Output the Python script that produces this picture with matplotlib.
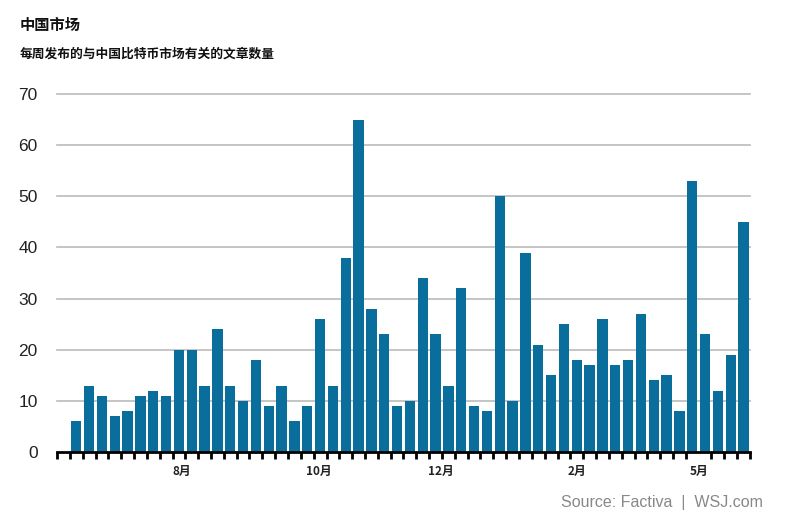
import matplotlib
matplotlib.use("Agg")
import matplotlib.pyplot as plt
import numpy as np

values = [6, 13, 11, 7, 8, 11, 12, 11, 20, 20, 13, 24, 13, 10, 18, 9, 13, 6, 9, 26,
          13, 38, 65, 28, 23, 9, 10, 34, 23, 13, 32, 9, 8, 50, 10, 39, 21, 15, 25, 18,
          17, 26, 17, 18, 27, 14, 15, 8, 53, 23, 12, 19, 45]
month_labels = ["8月", "10月", "12月", "2月", "5月"]
month_pos = [8.2, 18.9, 28.4, 39.0, 48.5]
yticks = [0, 10, 20, 30, 40, 50, 60, 70]

title = "中国市场"
subtitle = "每周发布的与中国比特币市场有关的文章数量"
source = "Source: Factiva  |  WSJ.com"

cjk = ["Noto Sans CJK SC", "DejaVu Sans"]
latin = ["Liberation Sans", "DejaVu Sans"]

fig = plt.figure(figsize=(7.87, 5.24), dpi=100)
ax = fig.add_axes([57/787, 72/524, (750-57)/787, (452-94)/524])

x = np.arange(len(values))
ax.bar(x, values, width=0.8, color="#0a6e9c", zorder=3)

ax.set_xlim(-1.5, len(values) - 0.5)
ax.set_ylim(0, 70)
ax.set_yticks(yticks)
ax.set_yticklabels([str(v) for v in yticks], fontfamily=latin, fontsize=12.5, color="#222222")
ax.tick_params(axis="y", length=0, pad=14)
for v in yticks[1:]:
    ax.axhline(v, color="#bbbbbb", linewidth=1.2, zorder=1, clip_on=False)

ax.set_xticks(month_pos)
ax.set_xticklabels(month_labels, fontfamily=cjk, fontsize=8.5, fontweight="bold", color="#222222")
ax.tick_params(axis="x", which="major", length=0, pad=9)
ax.set_xticks(np.arange(-1.5, len(values), 1.0), minor=True)
ax.tick_params(axis="x", which="minor", length=5, width=2, color="black", direction="out")

for s in ["top", "right", "left"]:
    ax.spines[s].set_visible(False)
ax.spines["bottom"].set_linewidth(2)
ax.spines["bottom"].set_color("black")
ax.spines["bottom"].set_zorder(4)

fig.text(20/787, 1 - 25/524, title, fontfamily=cjk, fontsize=11, fontweight="bold",
         va="center", ha="left", color="#111111")
fig.text(20/787, 1 - 54/524, subtitle, fontfamily=cjk, fontsize=9.2, fontweight="bold",
         va="center", ha="left", color="#111111")
fig.text(763/787, 1 - 503/524, source, fontfamily=latin, fontsize=11.5,
         va="center", ha="right", color="#888888")

fig.savefig("out.png", dpi=100, facecolor="white")
